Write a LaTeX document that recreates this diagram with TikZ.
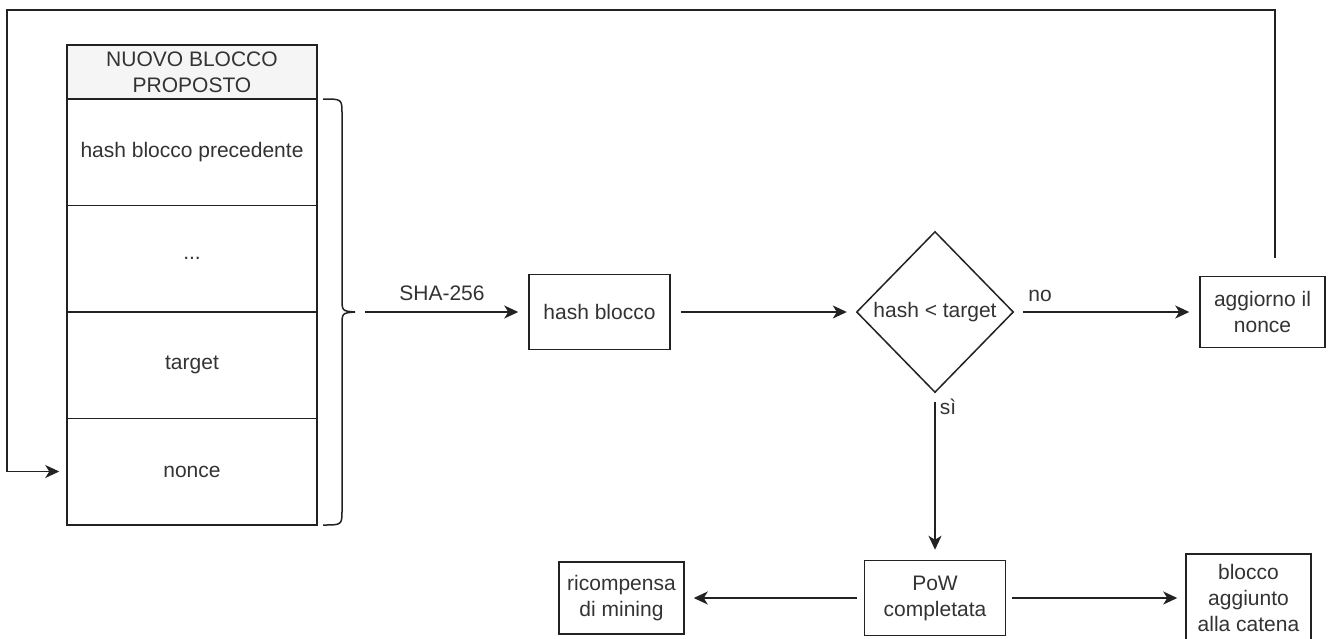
\documentclass[tikz,border=0pt]{standalone}
\usepackage{fontspec}
\setmainfont{Liberation Sans}
\usetikzlibrary{arrows.meta}
\definecolor{hdrfill}{HTML}{F5F5F5}
\definecolor{txt}{HTML}{333333}
\definecolor{ink}{HTML}{222222}
\begin{document}
\begin{tikzpicture}[x=1pt,y=-1pt,
  every node/.style={font=\fontsize{21}{26}\selectfont, text=txt},
  box/.style={draw=ink, line width=1.5pt, inner sep=0pt, align=center},
  conn/.style={draw=ink, line width=1.5pt,
    -{Stealth[length=14pt,width=13pt,inset=4pt]},
    shorten >=10pt, shorten <=10pt},
  lbl/.style={inner sep=0pt}]
\clip (0,0) rectangle (1331,638);
\fill[white] (0,0) rectangle (1331,638);

% proposed block: header and fields
\node[box, fill=hdrfill, minimum width=250pt, minimum height=54pt] (hdr) at (192,72) {NUOVO BLOCCO\\PROPOSTO};
\node[box, minimum width=250pt, minimum height=106.5pt] (r1) at (192,152) {hash blocco precedente};
\node[box, minimum width=250pt, minimum height=106.5pt] (r2) at (192,258.5) {...};
\node[box, minimum width=250pt, minimum height=106.5pt] (r3) at (192,365) {target};
\node[box, minimum width=250pt, minimum height=106.5pt] (r4) at (192,471.5) {nonce};

% curly brace grouping the fields
\coordinate (bt) at (355,312);
\draw[ink, line width=1.5pt, line join=round]
  (323,99) .. controls (342,99) .. (342,114) -- (342,298)
  .. controls (342,311) .. (bt);
\draw[ink, line width=1.5pt, line join=round]
  (323,525) .. controls (342,525) .. (342,510) -- (342,326)
  .. controls (342,313) .. (bt);

% process nodes
\node[box, minimum width=141pt, minimum height=75pt] (hb) at (599.5,312) {hash blocco};
\node[minimum width=156pt, minimum height=160pt, inner sep=0pt] (dia) at (935,312) {};
\draw[ink, line width=1.5pt, line join=miter] (dia.north) -- (dia.east) -- (dia.south) -- (dia.west) -- cycle;
\node[lbl] (diat) at (dia.center) {hash < target};
\node[box, minimum width=125pt, minimum height=71pt] (agg) at (1262.5,312) {aggiorno il\\nonce};
\node[box, minimum width=141pt, minimum height=75pt] (pow) at (935,598) {PoW\\completata};
\node[box, minimum width=125pt, minimum height=72pt] (ric) at (621.5,598) {ricompensa\\di mining};
\node[box, minimum width=125pt, minimum height=88pt] (bag) at (1248.5,598) {blocco\\aggiunto\\alla catena};

% connectors
\draw[conn] (bt) -- (hb);
\draw[conn] (hb) -- (dia.west);
\draw[conn] (dia.east) -- (agg);
\draw[conn] (dia.south) -- (pow);
\draw[conn, shorten <=7pt, shorten >=9pt] (pow) -- (ric);
\draw[conn, shorten <=6pt, shorten >=8pt] (pow) -- (bag);

% feedback loop back to the nonce field
\coordinate (ls) at (1275,258);
\coordinate (tl) at (7,10);
\draw[conn, shorten <=0pt, shorten >=7pt] (ls) |- (tl) |- (r4.west);

% connector labels
\node[lbl] (lsha) at (442,293) {SHA-256};
\node[lbl] (lno) at (1040,296) {no};
\node[lbl] (lsi) at (948,407) {sì};
\end{tikzpicture}
\end{document}
